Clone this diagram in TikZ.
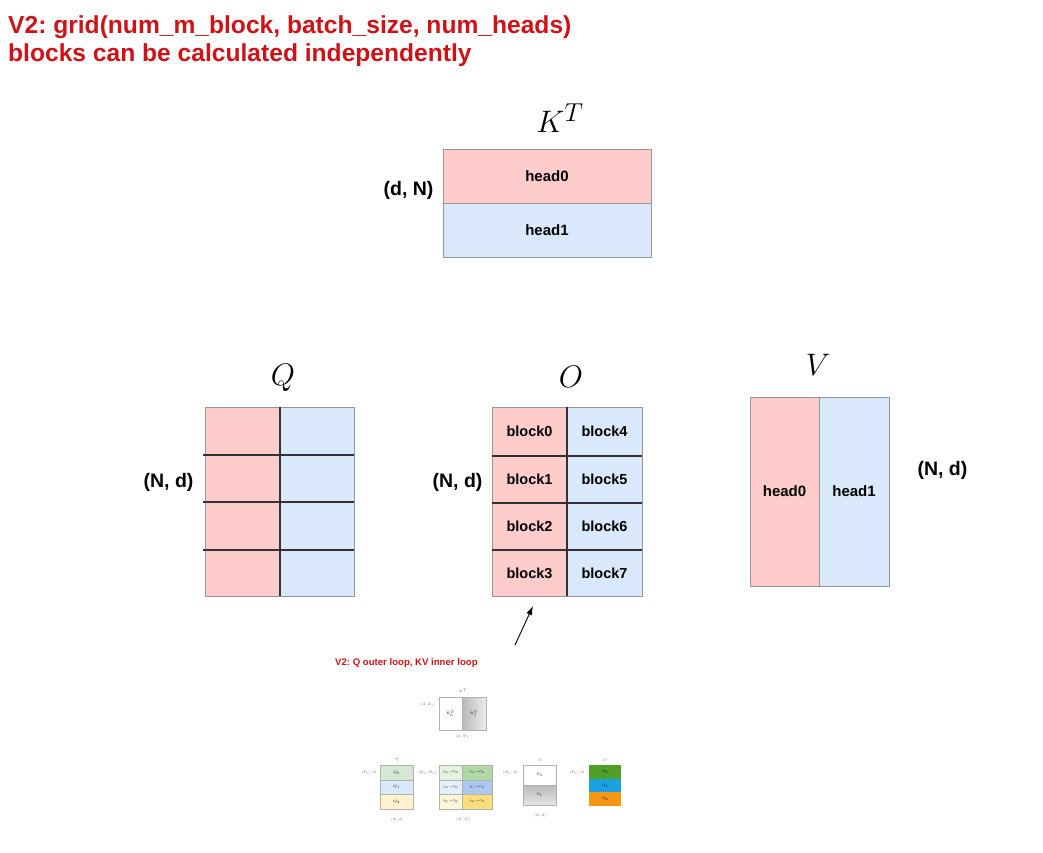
\documentclass[tikz,border=0pt]{standalone}
\usepackage{graphicx}
\usepackage{fontspec}
\setmainfont{Liberation Sans}
\usetikzlibrary{arrows.meta}
\frenchspacing
\definecolor{tred}{RGB}{208,18,22}
\definecolor{pinkc}{RGB}{255,204,204}
\definecolor{bluec}{RGB}{218,232,252}
\definecolor{bordc}{RGB}{150,150,150}
\definecolor{darkl}{RGB}{50,50,50}
\definecolor{sgreen}{RGB}{213,232,212}
\definecolor{sblue}{RGB}{218,232,252}
\definecolor{syellow}{RGB}{255,242,204}
\definecolor{sgreenl}{RGB}{228,242,224}
\definecolor{sgreend}{RGB}{178,216,168}
\definecolor{sbluel}{RGB}{228,238,252}
\definecolor{sblued}{RGB}{170,200,240}
\definecolor{syellowl}{RGB}{255,246,218}
\definecolor{syellowd}{RGB}{250,222,125}
\definecolor{ogreen}{RGB}{80,160,40}
\definecolor{ocyan}{RGB}{27,161,226}
\definecolor{oorange}{RGB}{245,150,20}
\newcommand{\mylargemath}[1]{\scalebox{1.25}{$#1$}}
\newcommand{\mytinymath}[1]{\scalebox{0.7}{$#1$}}
\newcommand{\mysmath}[1]{\scalebox{0.5}{$#1$}}
\tikzset{
  cell/.style={draw=bordc, line width=0.9pt, anchor=north west, inner sep=0pt, outer sep=0pt},
  pk/.style={cell, fill=pinkc},
  bl/.style={cell, fill=bluec},
  dline/.style={draw=darkl, line width=1.1pt},
  boxtxt/.style={font=\fontsize{15}{18}\selectfont\bfseries},
  blocktxt/.style={font=\fontsize{14.5}{17}\selectfont\bfseries},
  dimlbl/.style={font=\fontsize{19.5}{23}\selectfont\bfseries},
  mathlbl/.style={font=\fontsize{24.88}{28}\selectfont},
  title/.style={anchor=base west, inner sep=0pt, text=tred, font=\fontsize{24.6}{28}\selectfont\bfseries},
  smallcell/.style={draw=gray!60, line width=0.4pt, anchor=north west, inner sep=0pt, outer sep=0pt, font=\fontsize{5}{6}\selectfont},
  tinylbl/.style={font=\fontsize{5}{6}\selectfont, text=gray!70!black, inner sep=0pt}
}
\begin{document}
\begin{tikzpicture}[x=1pt,y=-1pt]
\useasboundingbox (0,0) rectangle (1043,852);

% title
\node[title] (t1) at (8,33) {V2: grid(num\_m\_block, batch\_size, num\_heads)};
\node[title] (t2) at (8,61) {blocks can be calculated independently};

% K^T
\node[mathlbl] (ktl) at (560,118) {\mylargemath{K^T}};
\node[pk, minimum width=208pt, minimum height=54pt, boxtxt] (kh0) at (443,149) {head0};
\node[bl, minimum width=208pt, minimum height=54pt, boxtxt] (kh1) at (443,203) {head1};
\node[dimlbl, anchor=east] (kdim) at (437,190) {(d, N)};

% Q
\node[mathlbl] (ql) at (283,378) {\mylargemath{Q}};
\foreach \r/\y/\h in {0/407/48,1/455/47,2/502/48,3/550/46}{
  \node[pk, minimum width=75pt, minimum height=\h pt] (q\r a) at (205,\y) {};
  \node[bl, minimum width=74pt, minimum height=\h pt] (q\r b) at (280,\y) {};
}
\foreach \r in {0,1,2}{
  \draw[dline] ([xshift=-2pt]q\r a.south west) -- (q\r b.south east);
}
\draw[dline] (q0a.north east) -- (q3a.south east);
\node[dimlbl, anchor=east] (qdim) at (197,482) {(N, d)};

% O
\node[mathlbl] (ol) at (571,377) {\mylargemath{O}};
\foreach \r/\y/\h/\na/\nb in {0/407/49/block0/block4,1/456/47/block1/block5,2/503/47/block2/block6,3/550/46/block3/block7}{
  \node[pk, minimum width=75pt, minimum height=\h pt, blocktxt] (o\r a) at (492,\y) {\na};
  \node[bl, minimum width=75pt, minimum height=\h pt, blocktxt] (o\r b) at (567,\y) {\nb};
}
\foreach \r in {0,1,2}{
  \draw[dline] (o\r a.south west) -- (o\r b.south east);
}
\draw[dline] (o0a.north east) -- (o3a.south east);
\node[dimlbl, anchor=east] (odim) at (486,482) {(N, d)};

% V
\node[mathlbl] (vl) at (818,365) {\mylargemath{V}};
\node[pk, minimum width=69pt, minimum height=189pt, boxtxt] (vh0) at (750,397) {head0};
\node[bl, minimum width=70pt, minimum height=189pt, boxtxt] (vh1) at (819,397) {head1};
\node[dimlbl, anchor=west] (vdim) at (914,470) {(N, d)};

% arrow and caption
\coordinate (atail) at (515,645);
\coordinate (ahead) at (533,606);
\draw[-{Latex[length=9pt,width=6pt]}, line width=0.9pt] (atail) -- (ahead);
\node[anchor=base west, inner sep=0pt, text=tred, font=\fontsize{9.6}{11}\selectfont\bfseries] (cap) at (335,665) {V2: Q outer loop, KV inner loop};

% small embedded figure: K^T
\node[tinylbl] (skl) at (463,691) {\mytinymath{K^T}};
\node[smallcell, fill=white, minimum width=23pt, minimum height=33pt] (sk0) at (439,697) {\mytinymath{K_0^T}};
\node[smallcell, left color=gray!55, right color=gray!15, minimum width=24pt, minimum height=33pt] (sk1) at (462,697) {\mytinymath{K_1^T}};
\node[tinylbl, anchor=east] (skd) at (436,705) {\mytinymath{(d, B_c)}};
\node[tinylbl] (skn) at (462,737) {\mytinymath{(d, N)}};

% small Q
\node[tinylbl] (sql) at (397,760) {\mytinymath{Q}};
\node[smallcell, fill=sgreen, minimum width=33pt, minimum height=15pt] (sq0) at (380,765) {\mytinymath{Q_0}};
\node[smallcell, fill=sblue, minimum width=33pt, minimum height=14pt] (sq1) at (380,780) {\mytinymath{Q_1}};
\node[smallcell, fill=syellow, minimum width=33pt, minimum height=15pt] (sq2) at (380,794) {\mytinymath{Q_2}};
\node[tinylbl, anchor=east] (sqd) at (377,773) {\mytinymath{(B_r, d)}};
\node[tinylbl] (sqn) at (397,820) {\mytinymath{(N, d)}};

% small S
\node[smallcell, fill=sgreenl, minimum width=23pt, minimum height=15pt] (ss0a) at (439,765) {\mysmath{S_{00}\!\to\!P_{00}}};
\node[smallcell, fill=sgreend, minimum width=30pt, minimum height=15pt] (ss0b) at (462,765) {\mysmath{S_{01}\!\to\!P_{01}}};
\node[smallcell, fill=sbluel, minimum width=23pt, minimum height=14pt] (ss1a) at (439,780) {\mysmath{S_{10}\!\to\!P_{10}}};
\node[smallcell, fill=sblued, minimum width=30pt, minimum height=14pt] (ss1b) at (462,780) {\mysmath{S_{11}\!\to\!P_{11}}};
\node[smallcell, fill=syellowl, minimum width=23pt, minimum height=15pt] (ss2a) at (439,794) {\mysmath{S_{20}\!\to\!P_{20}}};
\node[smallcell, fill=syellowd, minimum width=30pt, minimum height=15pt] (ss2b) at (462,794) {\mysmath{S_{21}\!\to\!P_{21}}};
\node[tinylbl, anchor=east] (ssd) at (437,773) {\mytinymath{(B_r, B_c)}};
\node[tinylbl] (ssn) at (463,820) {\mytinymath{(N, N)}};

% small V
\node[tinylbl] (svl) at (540,760) {\mytinymath{V}};
\node[smallcell, fill=white, minimum width=33pt, minimum height=20pt] (sv0) at (523,765) {\mytinymath{V_0}};
\node[smallcell, top color=gray!55, bottom color=gray!20, minimum width=33pt, minimum height=20pt] (sv1) at (523,785) {\mytinymath{V_1}};
\node[tinylbl, anchor=east] (svd) at (518,773) {\mytinymath{(B_c, d)}};
\node[tinylbl] (svn) at (540,816) {\mytinymath{(N, d)}};

% small O
\node[tinylbl] (sol) at (605,760) {\mytinymath{O}};
\node[smallcell, draw=none, fill=ogreen, minimum width=32pt, minimum height=14pt] (so0) at (589,765) {\mytinymath{O_0}};
\node[smallcell, draw=none, fill=ocyan, minimum width=32pt, minimum height=13pt] (so1) at (589,779) {\mytinymath{O_1}};
\node[smallcell, draw=none, fill=oorange, minimum width=32pt, minimum height=14pt] (so2) at (589,792) {\mytinymath{O_2}};
\node[tinylbl, anchor=east] (sod) at (585,773) {\mytinymath{(B_r, d)}};
\end{tikzpicture}
\end{document}
